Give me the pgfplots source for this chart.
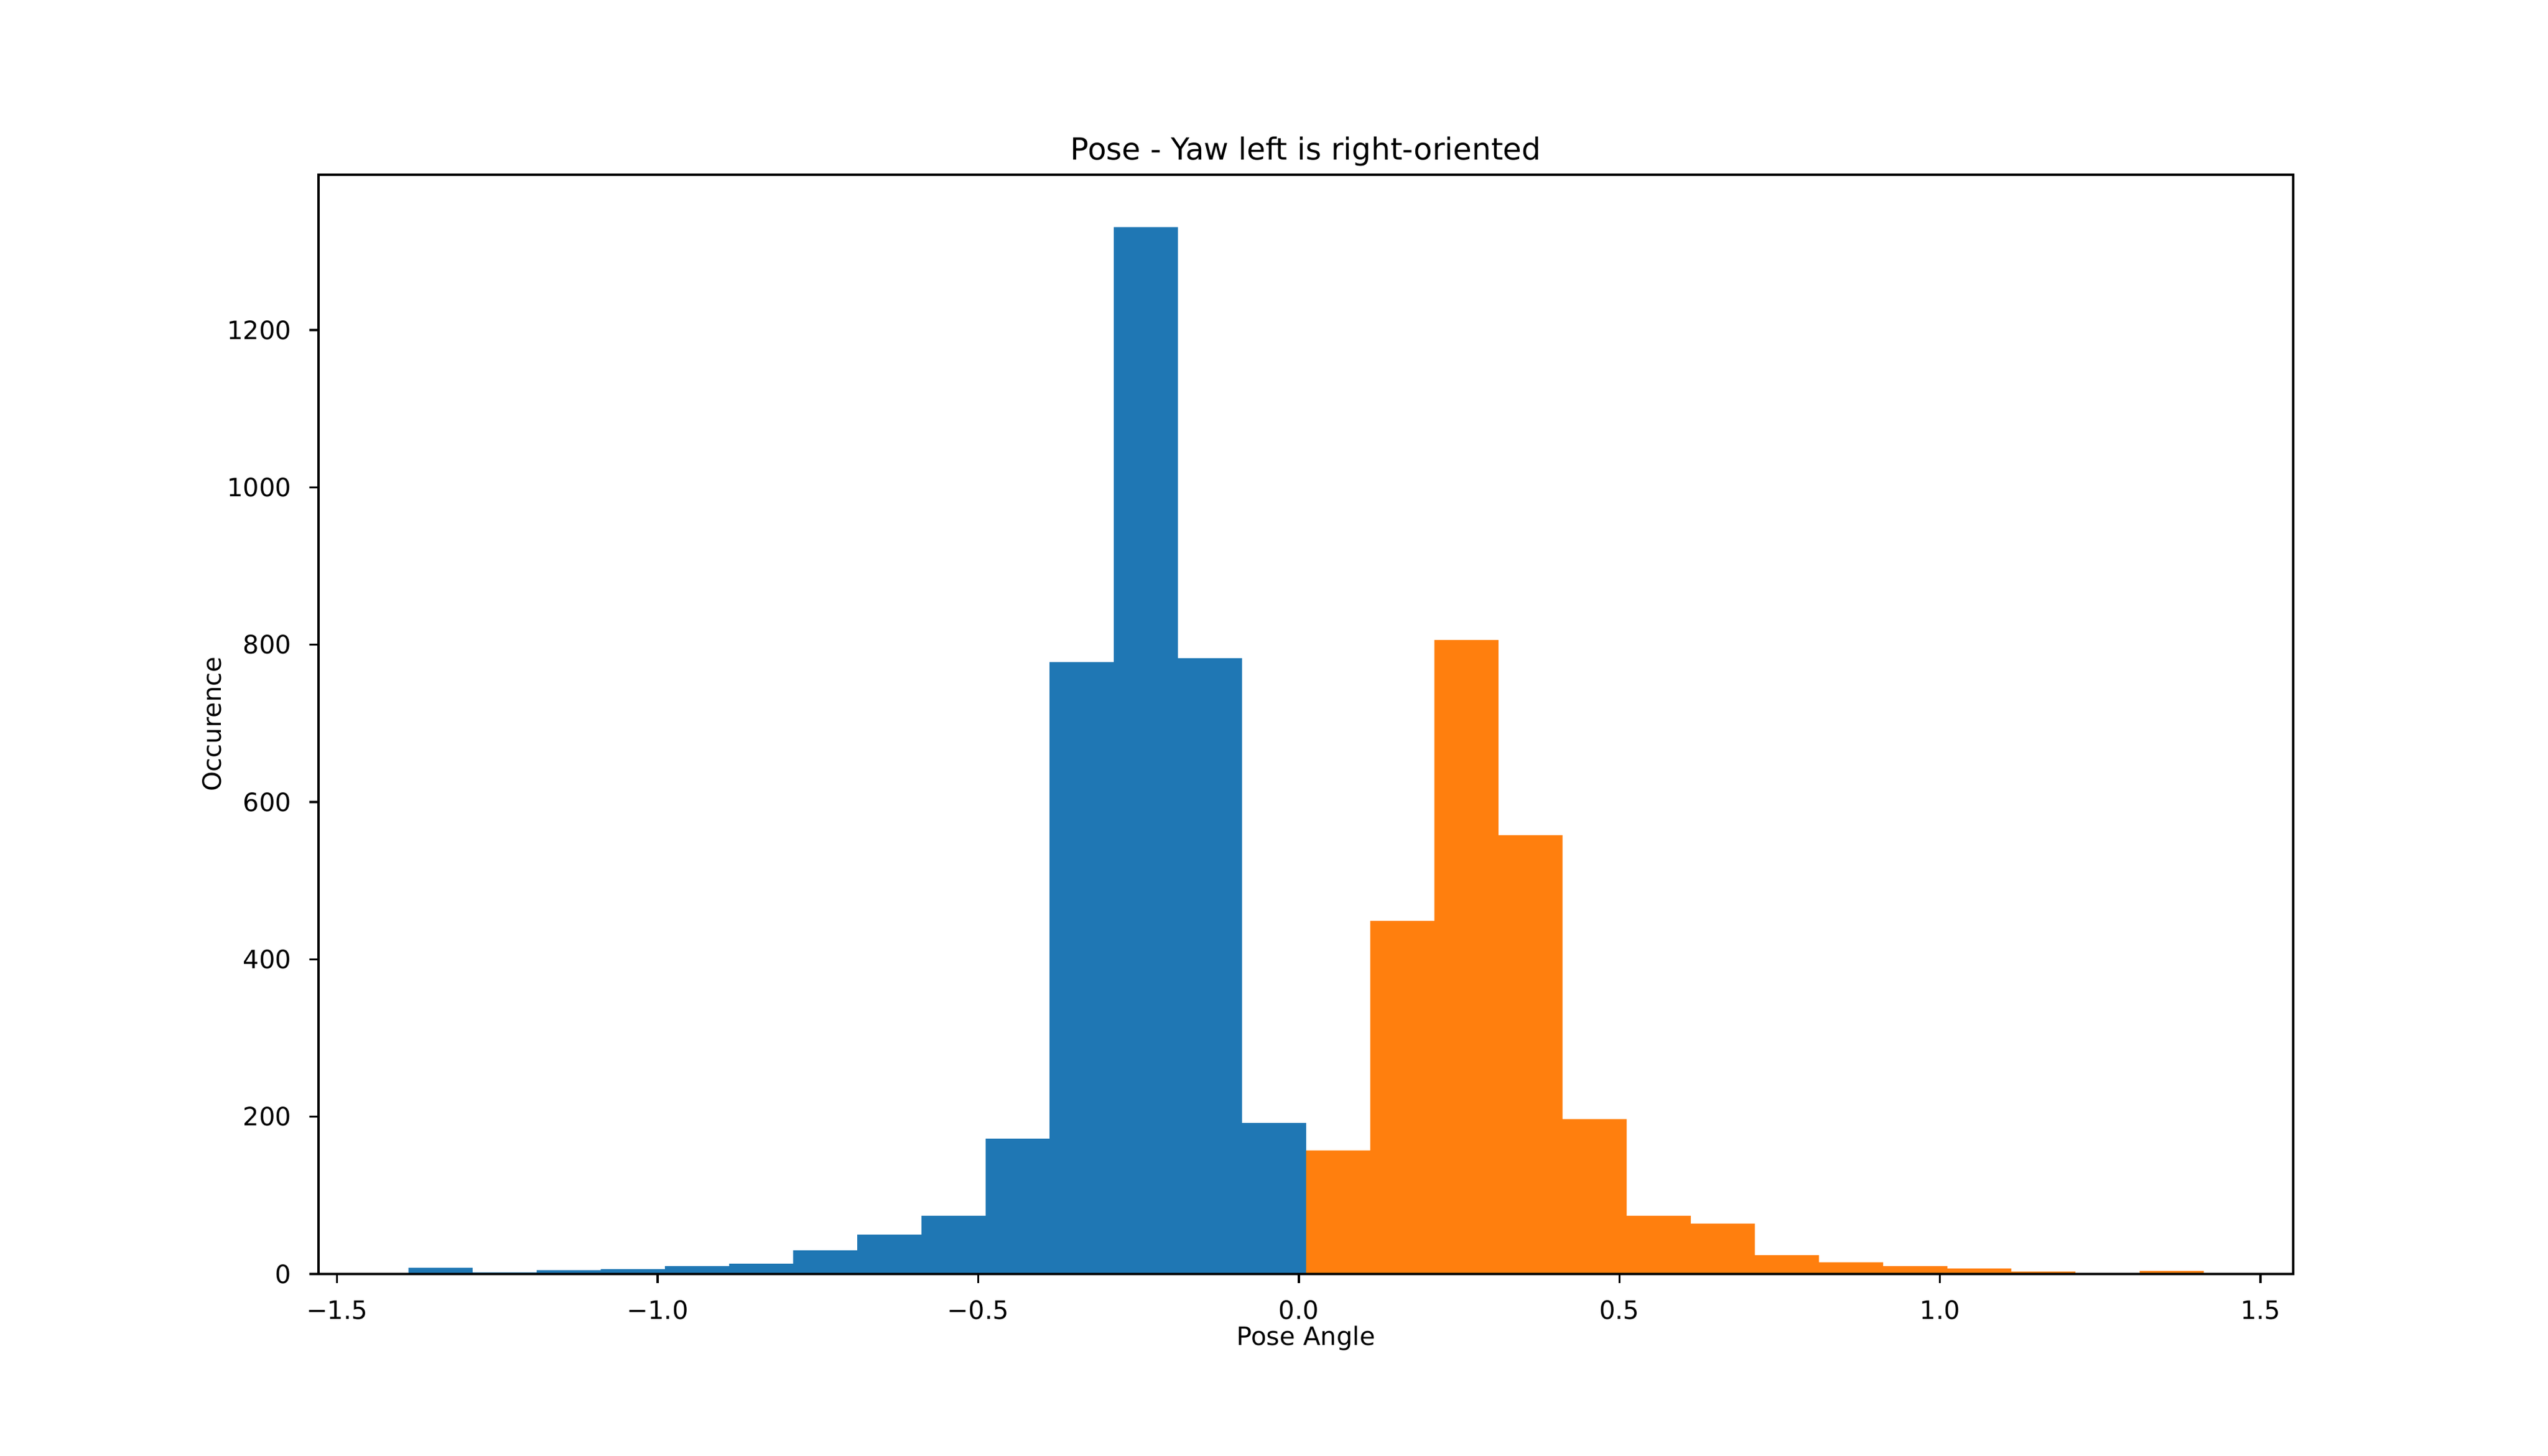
\documentclass[border=0pt]{standalone}
\usepackage{fontspec}
\setmainfont{DejaVu Sans}
\usepackage{pgfplots}
\pgfplotsset{compat=1.18}
\definecolor{tabblue}{HTML}{1F77B4}
\definecolor{taborange}{HTML}{FF7F0E}
\begin{document}
\begin{tikzpicture}
\path[use as bounding box] (0,0) rectangle (14in,8in);
\begin{axis}[
  at={(1.75in,1in)}, anchor=south west,
  scale only axis, width=10.85in, height=6.04in,
  xmin=-1.529, xmax=1.551, ymin=0, ymax=1397.55,
  axis on top,
  axis line style={line width=0.8bp},
  tick align=outside, major tick length=3.5bp,
  every tick/.style={black, line width=0.8bp},
  xtick pos=left, ytick pos=left,
  xtick={-1.5,-1,-0.5,0,0.5,1,1.5},
  xticklabels={−1.5,−1.0,−0.5,0.0,0.5,1.0,1.5},
  ytick={0,200,400,600,800,1000,1200},
  yticklabels={0,200,400,600,800,1000,1200},
  tick label style={font=\fontsize{10bp}{12bp}\selectfont, inner sep=0pt},
  xticklabel style={anchor=base, yshift=-14.4bp},
  yticklabel style={anchor=east, xshift=-7bp},
  xlabel={Pose Angle},
  xlabel style={at={([yshift=-28.2bp]axis description cs:0.5,0)}, anchor=base, inner sep=0pt, font=\fontsize{10bp}{12bp}\selectfont},
  ylabel={Occurence},
  ylabel style={at={([xshift=-38.6bp]axis description cs:0,0.5)}, anchor=base, inner sep=0pt, font=\fontsize{10bp}{12bp}\selectfont},
  title={Pose - Yaw left is right-oriented},
  title style={at={(axis description cs:0.5,1)}, anchor=base, inner sep=0pt, font=\fontsize{12bp}{14bp}\selectfont},
]
\addplot[ybar interval, fill=tabblue, draw=none] table {
x y
-1.3886 8
-1.2886 2
-1.1886 5
-1.0886 6
-0.9886 10
-0.8886 13
-0.7886 30
-0.6886 50
-0.5886 74
-0.4886 172
-0.3886 778
-0.2886 1331
-0.1886 783
-0.0886 192
0.0114 192
};
\addplot[ybar interval, fill=taborange, draw=none] table {
x y
0.0114 157
0.1114 449
0.2114 806
0.3114 558
0.4114 197
0.5114 74
0.6114 64
0.7114 24
0.8114 15
0.9114 10
1.0114 7
1.1114 3
1.2114 0
1.3114 4
1.4114 4
};
\end{axis}
\end{tikzpicture}
\end{document}
